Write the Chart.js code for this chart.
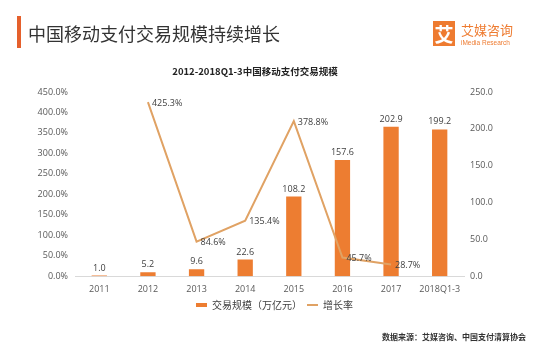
<!DOCTYPE html>
<html>
<head>
<meta charset="utf-8">
<script src="https://cdn.jsdelivr.net/npm/chart.js@4.4.1/dist/chart.umd.min.js"></script>
<style>
  body { margin: 0; background: #fff; }
  #wrap { position: relative; width: 549px; height: 351px; font-family: "Noto Sans CJK SC", sans-serif; }
  #c { position: absolute; left: 0; top: 0; }
  .mark { position: absolute; left: 17px; top: 16px; width: 4px; height: 32px; background: #e5602c; }
  .head { position: absolute; left: 28px; top: 20px; font-size: 18px; line-height: 26px; color: #333; letter-spacing: 0px; }
  .logo { position: absolute; left: 433px; top: 21px; width: 22px; height: 25px; background: #ee7b30; color: #fff; font-size: 19px; font-weight: bold; line-height: 25px; text-align: center; }
  .logo1 { position: absolute; left: 461px; top: 21px; font-size: 13px; line-height: 17px; color: #ee7b30; }
  .logo2 { position: absolute; left: 461px; top: 38px; font-size: 6.5px; line-height: 9px; color: #ee7b30; font-family: "Liberation Sans", sans-serif; }
  .sub { position: absolute; left: 0; width: 510px; top: 63px; text-align: center; font-size: 9.5px; font-weight: bold; color: #222; line-height: 16px; }
  .src { position: absolute; left: 382px; top: 330px; font-size: 8px; font-weight: bold; color: #333; line-height: 14px; }
</style>
</head>
<body>
<div id="wrap">
  <canvas id="c" width="549" height="351"></canvas>
  <div class="mark"></div>
  <div class="head">中国移动支付交易规模持续增长</div>
  <div class="logo">艾</div>
  <div class="logo1">艾媒咨询</div>
  <div class="logo2">iMedia Research</div>
  <div class="sub">2012-2018Q1-3中国移动支付交易规模</div>
  <div class="src">数据来源：艾媒咨询、中国支付清算协会</div>
</div>
<script>
// data
var years = ['2011', '2012', '2013', '2014', '2015', '2016', '2017', '2018Q1-3'];
var scale = [1.0, 5.2, 9.6, 22.6, 108.2, 157.6, 202.9, 199.2];       // 万亿元
var growth = [null, 425.3, 84.6, 135.4, 378.8, 45.7, 28.7, null];     // %

var barColor = '#ed7d31';
var lineColor = '#e0a264';

/* labels on bars and on the line */
var valueLabels = {
  id: 'valueLabels',
  afterDatasetsDraw: function(chart) {
    var ctx = chart.ctx;
    ctx.save();
    ctx.font = '9px "Open Sans", sans-serif';
    ctx.fillStyle = '#404040';
    chart.data.datasets.forEach(function(ds, i) {
      var meta = chart.getDatasetMeta(i);
      meta.data.forEach(function(el, j) {
        var v = ds.data[j];
        if (v === null) return;
        if (ds.type === 'bar') {
          ctx.textAlign = 'center';
          ctx.textBaseline = 'bottom';
          ctx.fillText(v.toFixed(1), el.x, el.y - 3);
        } else {
          ctx.textAlign = 'left';
          ctx.textBaseline = 'middle';
          ctx.fillText(v.toFixed(1) + '%', el.x + 4, el.y + 1);
        }
      });
    });
    ctx.restore();
  }
};

const ctx = document.getElementById('c');
new Chart(ctx, {
  data: {
    labels: years,
    datasets: [{
      type: 'line',
      label: '增长率',
      data: growth,
      yAxisID: 'yL',
      borderColor: lineColor,
      borderWidth: 2,
      pointRadius: 0,
      pointStyle: 'line',
      pointBorderColor: lineColor,
      pointBorderWidth: 2,
      tension: 0
    }, {
      type: 'bar',
      label: '交易规模（万亿元）',
      data: scale,
      yAxisID: 'yR',
      backgroundColor: barColor,
      pointStyle: 'rect',
      barPercentage: 0.9,
      categoryPercentage: 0.35
    }]
  },
  options: {
    responsive: false,
    animation: false,
    layout: { padding: { top: 92, bottom: 31, left: 0, right: 0 } },
    plugins: {
      legend: {
        position: 'bottom',
        reverse: true,
        labels: {
          usePointStyle: true,
          pointStyleWidth: 11,
          boxHeight: 4,
          padding: 5,
          color: '#404040',
          font: { size: 10, family: '"Noto Sans CJK SC", sans-serif' }
        }
      },
      tooltip: { enabled: false }
    },
    scales: {
      x: {
        grid: { display: false },
        border: { color: '#d9d9d9' },
        ticks: { color: '#595959', font: { size: 9, family: '"Open Sans", sans-serif' }, padding: 0, maxRotation: 0 }
      },
      yL: {
        position: 'left',
        min: 0, max: 450,
        grid: { display: false, drawTicks: false },
        border: { display: false },
        afterFit: function(s) { s.width = 75; },
        ticks: {
          stepSize: 50, padding: 7, color: '#595959',
          font: { size: 9, family: '"Open Sans", sans-serif' },
          callback: function(v) { return v.toFixed(1) + '%'; }
        }
      },
      yR: {
        position: 'right',
        min: 0, max: 250,
        grid: { display: false, drawTicks: false },
        border: { display: false },
        afterFit: function(s) { s.width = 85; },
        ticks: {
          stepSize: 50, padding: 6, color: '#595959',
          font: { size: 9, family: '"Open Sans", sans-serif' },
          callback: function(v) { return v.toFixed(1); }
        }
      }
    }
  },
  plugins: [valueLabels]
});
</script>
</body>
</html>
